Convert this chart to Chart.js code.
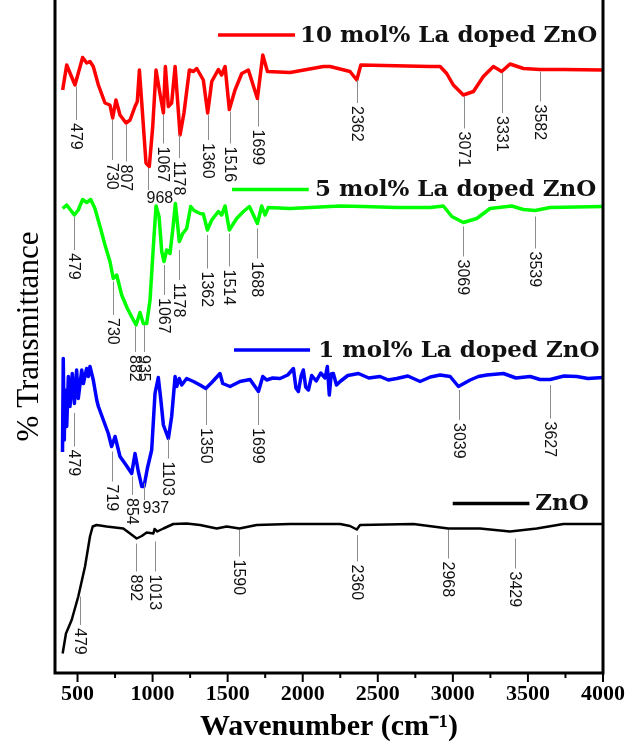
<!DOCTYPE html>
<html>
<head>
<meta charset="utf-8">
<script src="https://cdn.jsdelivr.net/npm/chart.js@4.4.1/dist/chart.umd.min.js"></script>
<style>
  html, body { margin:0; padding:0; background:#fff; }
  #wrap { width:633px; height:750px; }
</style>
</head>
<body>
<div id="wrap"><canvas id="ftir" width="633" height="750"></canvas></div>
<script>
// FTIR spectra, stacked (offset transmittance, arbitrary units)
const xTicks = [500, 1000, 1500, 2000, 2500, 3000, 3500, 4000];
const seriesNames = ['10 mol% La doped ZnO', '5 mol% La doped ZnO', '1 mol% La doped ZnO', 'ZnO'];
const seriesColors = ['#ff0000', '#00ff00', '#0000ff', '#000000'];

// 10 mol% La doped ZnO
const redWn = [401,428,483,534,561,583,605,639,683,716,734,756,783,823,850,883,898,912,928,956,978,1001,1023,1045,1072,1085,1105,1127,1150,1183,1209,1245,1272,1294,1338,1367,1394,1438,1460,1483,1511,1549,1594,1638,1698,1734,1765,1916,2138,2182,2315,2360,2387,2848,2915,2959,3003,3070,3137,3203,3270,3325,3381,3470,3581,3736,4000];
const redT  = [116.6,121.6,117.6,123.1,122,122.3,121.3,117.6,114,113.6,111,114.6,111.6,110,110.6,113.3,114.3,120.6,114,102,101.3,109.3,120.6,116.6,112,121.3,113.3,114,121.3,107.6,112,120.6,120.3,120.9,118.6,112,118.3,120.7,119.6,121.3,112.7,116.6,119.9,120.6,114.9,123.6,120.3,120.1,121.3,121.3,120.3,118.6,121.6,121.3,121.3,119.9,117.6,115.6,116.3,119.3,121.3,120.3,121.8,120.9,120.7,120.7,120.6];

// 5 mol% La doped ZnO
const greenWn = [401,428,479,505,534,561,588,616,650,683,716,738,761,794,832,872,890,916,938,961,983,1005,1023,1043,1061,1076,1094,1116,1134,1152,1178,1201,1227,1254,1276,1316,1338,1365,1394,1438,1460,1483,1511,1560,1605,1645,1698,1727,1749,1771,1916,2249,2405,2626,2848,2937,2993,3070,3159,3248,3392,3470,3548,3648,4000];
const greenT  = [92.9,93.6,91.6,92.6,94.7,94.1,94.7,92.9,89.3,85.6,82.3,78.9,79.6,75.6,72.9,70.6,69.6,72.1,69.9,69.9,74.6,85.3,93.4,91.3,84.3,82.3,84.6,83.9,88.6,93.9,86.3,87.9,88.9,93.3,92.5,91.9,91.8,88.6,90.6,92.3,91.6,93.4,88.6,90.9,92.3,93.3,89.9,93.4,91.6,93.1,92.9,93.4,93.3,93.1,93.1,93.4,91.3,90.1,90.9,92.9,93.4,92.7,92.5,93.1,93.3];

// 1 mol% La doped ZnO
const blueWn = [400,405,412,417,428,439,450,465,479,494,505,528,539,561,572,583,605,628,639,672,705,727,750,783,823,861,883,905,928,943,965,994,1016,1038,1054,1072,1105,1127,1150,1161,1178,1194,1227,1272,1316,1354,1394,1449,1467,1516,1582,1649,1705,1734,1760,1800,1849,1900,1938,1955,1971,1990,2004,2020,2038,2060,2090,2120,2149,2164,2177,2190,2204,2225,2249,2300,2371,2440,2515,2570,2626,2700,2782,2850,2915,2982,3037,3115,3170,3226,3337,3420,3515,3580,3648,3740,3826,3900,4000];
const blueT  = [44.2,62.9,46.6,56.6,49.3,59.3,53.3,59.9,53.9,60.6,54.9,60.6,57.9,60.9,59.3,61.3,58.6,54.6,53.3,50.6,47.9,45.3,47.3,43.3,41.6,39.9,43.9,40.3,37.3,37.3,40.9,44.6,55.9,59.1,54.9,49.6,46.9,51.3,59.3,57.3,58.9,57.6,58.9,58.3,57.6,56.9,58.1,59.9,57.9,57.3,58.3,58.7,56.3,59.3,58.6,59.0,58.9,59.6,60.9,57.0,56.3,59.5,60.6,57.2,56.6,59.5,58.4,60.0,59.0,61.3,55.6,59.8,59.9,57.6,58.3,59.5,59.9,59.0,59.3,58.6,58.9,59.4,58.3,59.2,59.6,59.3,57.3,58.6,59.3,59.6,59.9,59.0,59.3,58.7,58.7,59.4,59.3,58.9,59.1];

// ZnO
const blackWn = [401,423,461,505,550,583,601,627,694,805,850,894,928,961,1005,1013,1031,1072,1138,1227,1316,1427,1494,1578,1693,1916,2249,2315,2360,2382,2737,2970,3181,3381,3559,3736,4000];
const blackT  = [3.9,7.9,10.6,15.3,21.3,27.3,29.3,29.6,29.3,28.9,27.9,26.9,27.4,28.1,27.9,28.8,28.3,28.9,29.8,29.9,29.6,28.9,29.3,28.9,29.6,29.8,29.8,29.4,28.7,29.6,29.8,28.9,28.9,28.3,28.9,29.8,29.8];

// peak labels (cm-1)
const redPeaks   = [479,730,807,968,1067,1178,1360,1516,1699,2362,3071,3331,3582];
const greenPeaks = [479,730,882,935,1067,1178,1362,1514,1688,3069,3539];
const bluePeaks  = [479,719,854,937,1103,1350,1699,3039,3627];
const blackPeaks = [479,892,1013,1590,2360,2968,3429];

// marker layout: [line top, line bottom, x override, horizontal label]
const redMarks = [[117.3,110.6,490],[110.6,102.6],[109.6,102.3,823],[101,96.6,972,true],[111.6,105.9,1072],[107.6,103],[111.6,106.6,1367],[112.3,105.9],[114.6,109.3],[118.6,114],[115.3,108.9],[120,112,3325],[120.3,114.3]];
const greenMarks = [[91.3,84.6],[78.3,71.6,738],[69.3,64.2],[69.6,64.2,940],[81.6,75.6,1076],[84.6,78.6],[87.6,80.9],[87.9,81.3,1511],[88.9,82.9,1698],[89.3,83.3],[91.3,84.9,3548]];
const blueMarks = [[52,45.3],[44.3,38.3,727],[39.3,35.6,861],[38,34.6,943,true],[46.9,42.9],[56.6,49.6,1354],[55.9,49.6,1705],[56.6,50.6],[57.6,50.9,3648]];
const blackMarks = [[15.3,9.6,517],[25.9,20.3],[26.3,20.3],[28.6,23.3,1578],[27.6,22.3],[28.6,22.9],[26.9,20.9,3414]];

// legend layout: [line x1, line x2, y, text x]
const legendPos = [[1436,1949,127.6,1982],[1529,2040,96.7,2082],[1542,2049,64.6,2104],[2999,3510,33.9,3548]];

function pts(xs, ys){ return xs.map((x,i)=>({x:x, y:ys[i]})); }

const peakSets = [
  {peaks:redPeaks, marks:redMarks},
  {peaks:greenPeaks, marks:greenMarks},
  {peaks:bluePeaks, marks:blueMarks},
  {peaks:blackPeaks, marks:blackMarks}
];

const framePlugin = {
  id:'frame',
  afterDatasetsDraw(chart){
    const {ctx, chartArea:a, scales:{x}} = chart;
    ctx.save();
    ctx.strokeStyle = '#000';
    ctx.lineWidth = 3;
    ctx.beginPath();
    ctx.moveTo(a.left, a.top); ctx.lineTo(a.left, a.bottom); ctx.lineTo(a.right, a.bottom); ctx.lineTo(a.right, a.top);
    ctx.stroke();
    // ticks, major + minor
    ctx.lineWidth = 2;
    xTicks.forEach(v=>{
      const px = x.getPixelForValue(v);
      ctx.beginPath(); ctx.moveTo(px, a.bottom); ctx.lineTo(px, a.bottom+9); ctx.stroke();
      const m = x.getPixelForValue(v-250);
      if(v-250 > x.min){ ctx.beginPath(); ctx.moveTo(m, a.bottom); ctx.lineTo(m, a.bottom+5); ctx.stroke(); }
    });
    ctx.restore();
  }
};

const peakPlugin = {
  id:'peaks',
  afterDatasetsDraw(chart){
    const {ctx, scales:{x, y}} = chart;
    ctx.save();
    ctx.font = '16px "Liberation Sans", Arial, sans-serif';
    ctx.fillStyle = '#111';
    peakSets.forEach(set=>{
      set.peaks.forEach((p,i)=>{
        const m = set.marks[i];
        const px = Math.round(x.getPixelForValue(m[2] || p)) + 0.5;
        const y1 = y.getPixelForValue(m[0]), y2 = y.getPixelForValue(m[1]);
        ctx.strokeStyle = '#8c8c8c'; ctx.lineWidth = 1;
        ctx.beginPath(); ctx.moveTo(px, y1); ctx.lineTo(px, y2); ctx.stroke();
        if(m[3]){
          ctx.textAlign = 'left'; ctx.textBaseline = 'top';
          ctx.fillText(String(p), px-2, y2+1);
        } else {
          ctx.save();
          ctx.translate(px, y2+3);
          ctx.rotate(Math.PI/2);
          ctx.textAlign = 'left'; ctx.textBaseline = 'middle';
          ctx.fillText(String(p), 0, 1);
          ctx.restore();
        }
      });
    });
    ctx.restore();
  }
};

const legendPlugin = {
  id:'seriesLegend',
  afterDatasetsDraw(chart){
    const {ctx, scales:{x, y}} = chart;
    ctx.save();
    ctx.font = 'bold 23px "DejaVu Serif", serif';
    ctx.textAlign = 'left'; ctx.textBaseline = 'middle';
    seriesNames.forEach((name,i)=>{
      const L = legendPos[i];
      const py = y.getPixelForValue(L[2]);
      ctx.strokeStyle = seriesColors[i]; ctx.lineWidth = 3.5;
      ctx.beginPath(); ctx.moveTo(x.getPixelForValue(L[0]), py); ctx.lineTo(x.getPixelForValue(L[1]), py); ctx.stroke();
      ctx.fillStyle = '#111';
      ctx.fillText(name, x.getPixelForValue(L[3]), py+1);
    });
    ctx.restore();
  }
};

const datasets = [
  {label:seriesNames[0], data:pts(redWn, redT), borderColor:seriesColors[0], borderWidth:3.5},
  {label:seriesNames[1], data:pts(greenWn, greenT), borderColor:seriesColors[1], borderWidth:3.5},
  {label:seriesNames[2], data:pts(blueWn, blueT), borderColor:seriesColors[2], borderWidth:3.5},
  {label:seriesNames[3], data:pts(blackWn, blackT), borderColor:seriesColors[3], borderWidth:2.5}
].map(d=>Object.assign(d, {pointRadius:0, fill:false, tension:0, borderJoinStyle:'round'}));

new Chart(document.getElementById('ftir').getContext('2d'), {
  type:'line',
  data:{datasets:datasets},
  options:{
    responsive:false,
    animation:false,
    layout:{padding:{left:0, right:30, top:0, bottom:0}},
    plugins:{legend:{display:false}, tooltip:{enabled:false}},
    scales:{
      x:{
        type:'linear', min:350, max:4000,
        afterBuildTicks: s => { s.ticks = xTicks.map(v=>({value:v})); },
        afterFit: s => { s.height = 77; s.paddingLeft = 0; s.paddingRight = 0; },
        grid:{display:false},
        border:{display:false},
        ticks:{color:'#000', padding:0, maxRotation:0, autoSkip:false,
               font:{family:'"Liberation Serif", serif', size:22, weight:'bold'},
               callback: v => String(v)},
        title:{display:true, text:'Wavenumber (cm⁻¹)', color:'#000', padding:{top:0, bottom:5},
               font:{family:'"Liberation Serif", serif', size:30, weight:'bold'}}
      },
      y:{
        min:0, max:134.6,
        afterFit: s => { s.width = 55; s.paddingTop = 0; s.paddingBottom = 0; },
        grid:{display:false},
        border:{display:false},
        ticks:{display:false},
        title:{display:true, text:'% Transmittance', color:'#000', padding:{top:11, bottom:0},
               font:{family:'"Liberation Serif", serif', size:31, weight:'normal'}}
      }
    }
  },
  plugins:[framePlugin, peakPlugin, legendPlugin]
});
</script>
</body>
</html>
